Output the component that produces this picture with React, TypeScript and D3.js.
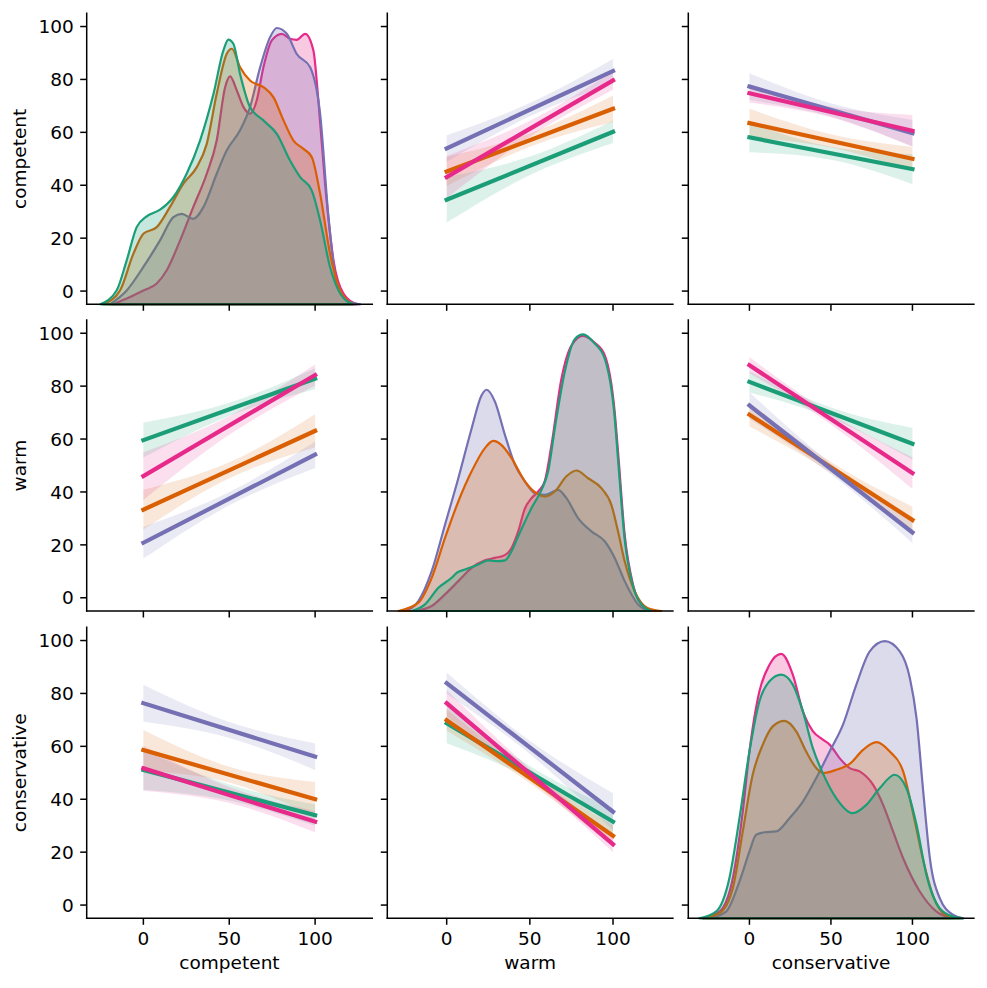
import React from "react";
import * as d3 from "d3";

// ---------- data ----------
const VARIABLES = ["competent", "warm", "conservative"];
const HUE_COLORS = ["#1b9e77", "#d95f02", "#7570b3", "#e7298a"];
const X_TICKS = [0, 50, 100];
const Y_TICKS = [0, 20, 40, 60, 80, 100];
const COLUMN_X_LIMITS = [[-33, 133.3], [-35.7, 136], [-37.5, 137.7]];
const ROW_Y_LIMITS = [-5, 105];
const FIT_X = [0, 50, 100];

// regression fits per hue: [y at x=0, y at x=100]
const fitCompetentOnWarm = [[34.5, 60.2], [45.2, 68.9], [53.9, 83.2], [43.1, 79.6]];
const fitCompetentOnConservative = [[58.1, 46.1], [63.5, 50.0], [77.3, 59.7], [74.8, 60.6]];
const fitWarmOnCompetent = [[59.6, 82.8], [33.3, 63.1], [20.8, 54.1], [46.0, 84.2]];
const fitWarmOnConservative = [[81.6, 58.2], [69.2, 29.4], [72.7, 24.7], [87.9, 47.1]];
const fitConservativeOnCompetent = [[51.1, 34.0], [58.6, 40.0], [76.3, 56.1], [51.7, 31.5]];
const fitConservativeOnWarm = [[68.7, 31.5], [69.9, 26.2], [83.9, 35.3], [76.3, 23.0]];

// confidence band half widths per hue at x = 0, 50, 100
const ciCompetentOnWarm = [[8.6, 3.5, 4.2], [5.5, 2.5, 5.0], [5.0, 2.5, 4.5], [8.0, 3.0, 3.5]];
const ciCompetentOnConservative = [[5.6, 2.5, 5.7], [5.4, 2.5, 4.5], [5.0, 2.5, 5.0], [3.5, 2.0, 6.0]];
const ciWarmOnCompetent = [[6.6, 2.5, 4.0], [7.5, 3.0, 6.3], [6.0, 2.5, 5.0], [9.0, 3.5, 4.0]];
const ciWarmOnConservative = [[4.0, 2.0, 6.0], [4.5, 2.0, 5.0], [5.0, 2.0, 4.0], [3.0, 2.0, 6.0]];
const ciConservativeOnCompetent = [[7.5, 3.0, 4.0], [7.6, 3.0, 6.5], [7.0, 3.0, 5.0], [8.5, 3.0, 4.0]];
const ciConservativeOnWarm = [[7.5, 2.5, 5.0], [4.0, 2.0, 4.0], [4.0, 2.5, 7.0], [5.0, 2.0, 3.0]];

// kernel density curves (relative density) per variable and hue
const kdeCompetentGreen = [[-25,0],[-15.5,5.1],[-9.7,15.9],[-3.9,27.9],[1.9,31.8],[9.7,34.2],[17.5,38.8],[25.2,47.2],[33,59.2],[40.8,76],[46.6,91.8],[49.5,95.7],[52.4,94.2],[56.3,83.3],[62.1,71.3],[69.9,66.5],[77.7,61.6],[85.4,52],[91.3,46],[98,41.2],[102.9,30.3],[108.7,13.5],[114.6,3.9],[122,0]];
const kdeCompetentOrange = [[-23.3,0],[-13.6,5],[-5.8,18.3],[0,25.5],[7.8,27.9],[15.5,35.2],[23.3,43.6],[31.1,49.6],[36.9,58],[42.7,76.1],[48.5,90.5],[51.5,92.4],[56.3,85.7],[62.1,80.9],[69.9,78.5],[75.7,74.9],[81.6,66.5],[87.4,59.2],[93.2,56.2],[98.1,53.2],[102.9,40],[108.7,18.3],[114.6,5],[122.3,0]];
const kdeCompetentPurple = [[-19.4,0],[-9.7,5],[0,13.5],[9.7,23.1],[17.5,31.5],[22.3,32.7],[29.1,30.9],[35,35.2],[42.7,47.2],[48.5,55.6],[56.3,62.9],[62.1,71.3],[68,85.7],[73.8,96.6],[77.7,99.9],[83.5,97.8],[89.3,90.5],[97.1,85.7],[102.9,68.9],[107.8,31.5],[112.6,7.5],[118.4,1.4],[126.2,0]];
const kdeCompetentPink = [[-17.5,0],[-7.8,2.6],[0,5],[7.8,7.5],[13.6,12.3],[21.4,23.1],[29.1,35.2],[36.9,47.2],[42.7,59.2],[47.6,78.5],[50.5,82.4],[54.4,77.3],[58.3,71.3],[62.1,68.9],[66,73.7],[69.9,85.7],[74.8,95.4],[80.6,97.8],[85.4,96],[89.3,95.6],[94.2,97.8],[99,91.8],[101.9,73.7],[105.8,43.6],[110.7,15.9],[116.5,3.9],[124.3,0]];

const kdeWarmGreen = [[-21,0],[-13,2.4],[-5,8.4],[3,12],[6,13.8],[11,15],[19,16.8],[25,18.3],[31,18],[35,18.3],[39,21.6],[43,27],[51,37.2],[57,43.8],[61,50.5],[65,66],[71,86.5],[77,98.3],[82,100],[89,96.7],[95,91.3],[101,70],[103,55],[107,26],[112,9],[118,1.8],[123,0]];
const kdeWarmOrange = [[-29,0],[-17,3],[-9,12],[-1,26.4],[7,39.6],[15,50.5],[23,58.9],[28,61.5],[33,60],[39,55.3],[47,46.9],[54,42.6],[59,41.4],[65,43.2],[72,48.7],[78,50.8],[85,48],[93,44.4],[99,38.4],[103,28.8],[107,18],[113,7.2],[121,1],[129,0]];
const kdeWarmPurple = [[-25,0],[-17,3.6],[-9,14.4],[-1,31.2],[7,48],[15,66],[21,78],[24,80],[29,75.7],[35,63.7],[41,52.9],[47,46.9],[53,42.6],[59,42],[67,43.8],[72,40.8],[79,33.6],[87,28.8],[95,25.2],[101,19.2],[107,10.8],[115,2.4],[121,0]];
const kdeWarmPink = [[-19,0],[-9,1.8],[-1,6],[7,10.8],[15,15.6],[23,18.3],[29,19.2],[35,20.2],[39,22.8],[43,28.8],[47,37],[51,40.8],[55,43.2],[59,47],[63,60],[69,84],[75,96],[82,99.5],[89,97],[95,92.5],[101,72],[103,57.7],[107,27.6],[112,9.6],[118,1.8],[125,0]];

const kdeConservativeGreen = [[-30.7,0],[-20.5,2.4],[-12.3,14.5],[-6.1,36.2],[0,60.3],[6.1,78.4],[12.3,85.7],[19.5,88.1],[26.6,84.5],[32.8,74.8],[38.9,61.5],[45,52.5],[53.3,43.4],[63.5,38],[71.7,41],[79.9,47],[89.1,51.9],[96.3,47],[102.5,33.8],[108.6,15.7],[116.8,3.6],[125,0.6],[131,0]];
const kdeConservativeOrange = [[-28.7,0],[-18.4,1.8],[-10.2,10.9],[-4.1,31.4],[2,51.9],[8.2,62.8],[14.3,69.4],[21.5,71.4],[28.7,67.6],[34.8,60.3],[41,54.3],[45.1,52.5],[53.3,53.7],[61.5,55.8],[69.7,60.9],[77.9,63.7],[86.1,60.3],[94.3,53.1],[100.4,38],[106.6,21],[112.7,8],[120.9,1],[129.1,0]];
const kdeConservativePurple = [[-24.6,0],[-14.3,2.4],[-6.1,13.3],[0,24.1],[4.1,30.2],[9.2,31.1],[16.4,31.4],[24.6,36.2],[32.8,42.2],[41,50.7],[49.2,60.3],[57.4,70],[65.6,84.5],[73.8,96.5],[83,100.2],[92.2,96.5],[98.4,86.9],[102.5,72.4],[106.6,45.9],[110.7,21.7],[116.8,7.2],[125,1.2],[131,0]];
const kdeConservativePink = [[-28.7,0],[-18.4,2.4],[-10.2,14.5],[-4.1,38.6],[0,60.3],[6.1,82],[12.3,91.7],[19.5,95.6],[26.6,88.1],[32.8,74.8],[39,67.6],[45,64.6],[49.2,62.8],[55.3,57.9],[61.5,54.3],[67.6,53.1],[75.8,48.3],[82,41],[88.1,31.4],[94.3,21.7],[104.5,9.7],[114.8,2.4],[125,0]];

// ---------- tables built from the arrays ----------
const REGRESSIONS: Record<string, [number[][], number[][]]> = {
  "0,1": [fitCompetentOnWarm, ciCompetentOnWarm],
  "0,2": [fitCompetentOnConservative, ciCompetentOnConservative],
  "1,0": [fitWarmOnCompetent, ciWarmOnCompetent],
  "1,2": [fitWarmOnConservative, ciWarmOnConservative],
  "2,0": [fitConservativeOnCompetent, ciConservativeOnCompetent],
  "2,1": [fitConservativeOnWarm, ciConservativeOnWarm],
};
const KDES = [
  [kdeCompetentGreen, kdeCompetentOrange, kdeCompetentPurple, kdeCompetentPink],
  [kdeWarmGreen, kdeWarmOrange, kdeWarmPurple, kdeWarmPink],
  [kdeConservativeGreen, kdeConservativeOrange, kdeConservativePurple, kdeConservativePink],
];

// ---------- layout ----------
const WIDTH = 987;
const HEIGHT = 988;
const COL_LEFT = [86.7, 387.3, 688.3];
const PANEL_W = 285.6;
const ROW_TOP = [13.3, 320, 627.3];
const PANEL_H = 291;
const FS = 18.5;
const FONT = "DejaVu Sans, sans-serif";
const TICK = 6.5;
const PAD = 6.5;

const kdeMax = d3.max(KDES.flat().flat(), (d: any) => d[1]) as number;

function Panel({ r, c }: { r: number; c: number }) {
  const left = COL_LEFT[c];
  const top = ROW_TOP[r];
  const bottom = top + PANEL_H;
  const right = left + PANEL_W;
  const x = d3.scaleLinear().domain(COLUMN_X_LIMITS[c]).range([left, right]);
  const y = d3.scaleLinear().domain(ROW_Y_LIMITS).range([bottom, top]);

  const content: React.ReactNode[] = [];

  if (r === c) {
    const yk = d3.scaleLinear().domain([0, kdeMax * 1.05]).range([bottom, top]);
    const area = d3
      .area<number[]>()
      .x((d) => x(d[0]))
      .y0(yk(0))
      .y1((d) => yk(d[1]))
      .curve(d3.curveMonotoneX);
    const order = [3, 2, 1, 0];
    order.forEach((h) => {
      content.push(
        <path
          key={"kde" + h}
          d={area(KDES[r][h] as number[][]) || ""}
          fill={HUE_COLORS[h]}
          fillOpacity={0.25}
          stroke={HUE_COLORS[h]}
          strokeWidth={2.2}
          strokeLinejoin="round"
        />
      );
    });
  } else {
    const [fits, cis] = REGRESSIONS[`${r},${c}`];
    const band = d3
      .area<number>()
      .x((_, i) => x(FIT_X[i]))
      .curve(d3.curveMonotoneX);
    fits.forEach((f, h) => {
      const mid = (f[0] + f[1]) / 2;
      const centers = [f[0], mid, f[1]];
      const hw = cis[h];
      const path = band
        .y0((_, i) => y(centers[i] - hw[i]))
        .y1((_, i) => y(centers[i] + hw[i]))(FIT_X);
      content.push(
        <path key={"ci" + h} d={path || ""} fill={HUE_COLORS[h]} fillOpacity={0.15} stroke="none" />
      );
    });
    fits.forEach((f, h) => {
      content.push(
        <line
          key={"fit" + h}
          x1={x(FIT_X[0])}
          y1={y(f[0])}
          x2={x(FIT_X[2])}
          y2={y(f[1])}
          stroke={HUE_COLORS[h]}
          strokeWidth={4.2}
          strokeLinecap="square"
        />
      );
    });
  }

  return (
    <g>
      {content}
      {/* spines */}
      <line x1={left} y1={top} x2={left} y2={bottom} stroke="#000" strokeWidth={1.5} strokeLinecap="square" />
      <line x1={left} y1={bottom} x2={right} y2={bottom} stroke="#000" strokeWidth={1.5} strokeLinecap="square" />
      {/* y ticks */}
      {Y_TICKS.map((t) => (
        <g key={"yt" + t}>
          <line x1={left - TICK} x2={left} y1={y(t)} y2={y(t)} stroke="#000" strokeWidth={1.5} />
          {c === 0 && (
            <text
              x={left - TICK - PAD}
              y={y(t) + FS * 0.36}
              textAnchor="end"
              fontFamily={FONT}
              fontSize={FS}
              fill="#000"
            >
              {t}
            </text>
          )}
        </g>
      ))}
      {/* x ticks */}
      {X_TICKS.map((t) => (
        <g key={"xt" + t}>
          <line x1={x(t)} x2={x(t)} y1={bottom} y2={bottom + TICK} stroke="#000" strokeWidth={1.5} />
          {r === 2 && (
            <text
              x={x(t)}
              y={bottom + 27}
              textAnchor="middle"
              fontFamily={FONT}
              fontSize={FS}
              fill="#000"
            >
              {t}
            </text>
          )}
        </g>
      ))}
      {r === 2 && (
        <text x={(left + right) / 2} y={bottom + 51} textAnchor="middle" fontFamily={FONT} fontSize={FS} fill="#000">
          {VARIABLES[c]}
        </text>
      )}
      {c === 0 && (
        <text
          transform={`translate(26, ${(top + bottom) / 2}) rotate(-90)`}
          textAnchor="middle"
          fontFamily={FONT}
          fontSize={FS}
          fill="#000"
        >
          {VARIABLES[r]}
        </text>
      )}
    </g>
  );
}

export default function App() {
  const cells: React.ReactNode[] = [];
  for (let r = 0; r < 3; r++) {
    for (let c = 0; c < 3; c++) {
      cells.push(<Panel key={`${r}-${c}`} r={r} c={c} />);
    }
  }
  return (
    <svg
      width={WIDTH}
      height={HEIGHT}
      viewBox={`0 0 ${WIDTH} ${HEIGHT}`}
      style={{ position: "absolute", left: 0, top: 0, background: "#fff" }}
    >
      <rect x={0} y={0} width={WIDTH} height={HEIGHT} fill="#fff" />
      {cells}
    </svg>
  );
}
